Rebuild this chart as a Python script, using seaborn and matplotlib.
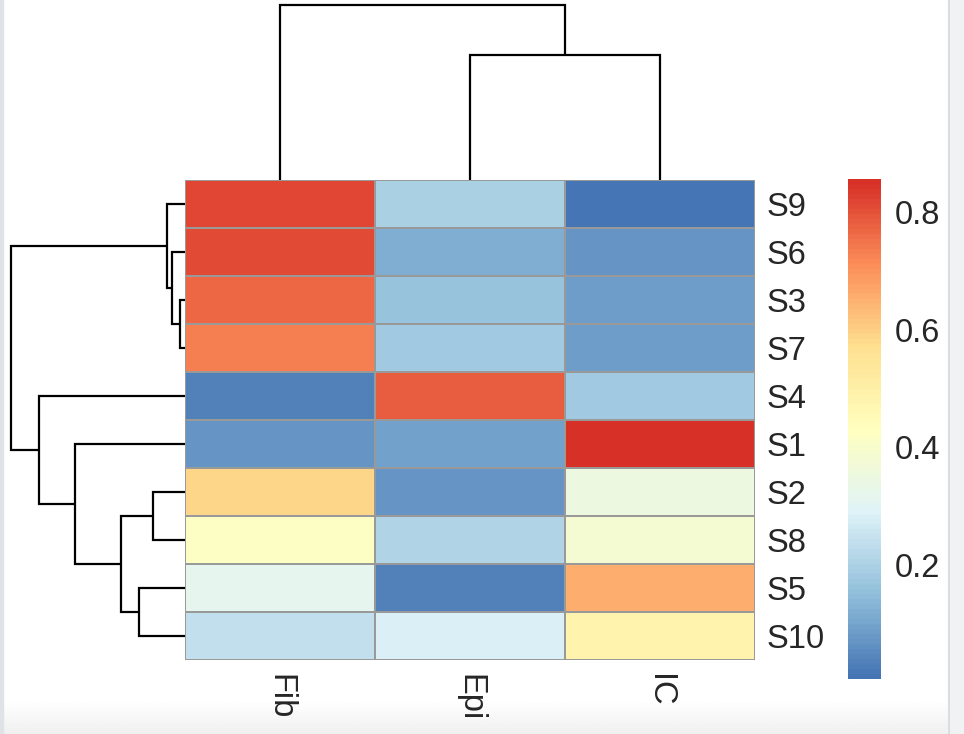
import numpy as np
import pandas as pd
import matplotlib
matplotlib.use("Agg")
import matplotlib.pyplot as plt
from matplotlib.colors import LinearSegmentedColormap, ListedColormap
import seaborn as sns

# ---------------- data ----------------
rows = ["S9", "S6", "S3", "S7", "S4", "S1", "S2", "S8", "S5", "S10"]
cols = ["Fib", "Epi", "IC"]
fib = [0.815, 0.810, 0.765, 0.736, 0.037, 0.066, 0.584, 0.414, 0.318, 0.237]
epi = [0.195, 0.123, 0.159, 0.182, 0.780, 0.094, 0.070, 0.203, 0.036, 0.278]
ic = [0.006, 0.070, 0.090, 0.090, 0.180, 0.856, 0.352, 0.380, 0.655, 0.490]
cbar_ticks = [0.2, 0.4, 0.6, 0.8]

# dendrogram merges: (left member, right member, height)
row_merges = [("S3", "S7", 5), ("S6", 0, 13), ("S9", 1, 18),
              ("S2", "S8", 32), ("S5", "S10", 46), (3, 4, 64),
              ("S1", 5, 110), ("S4", 6, 146), (2, 7, 174)]
col_merges = [("Epi", "IC", 125), ("Fib", 0, 175)]

df = pd.DataFrame({"Fib": fib, "Epi": epi, "IC": ic}, index=rows)[cols]

# ---------------- style ----------------
W, H = 964, 734
FONT = ["Liberation Sans", "DejaVu Sans"]
FS = 23.5
sns.set_style("white")
plt.rcParams["font.family"] = FONT

base = ["#4575B4", "#91BFDB", "#E0F3F8", "#FFFFBF", "#FEE090", "#FC8D59", "#D73027"]
cmap = ListedColormap(LinearSegmentedColormap.from_list("rdylbu", base)(np.linspace(0, 1, 100)))

fig = plt.figure(figsize=(W / 100, H / 100), dpi=100)
fig.patch.set_facecolor("white")


def px_axes(x0, y0, x1, y1):
    return fig.add_axes([x0 / W, 1 - y1 / H, (x1 - x0) / W, (y1 - y0) / H])


# screenshot frame decorations
deco = fig.add_axes([0, 0, 1, 1], zorder=-5)
deco.set_xlim(0, W)
deco.set_ylim(H, 0)
deco.axis("off")
grad = np.linspace(1.0, 0.94, 40)[:, None] * np.ones((1, 10))
deco.imshow(grad, extent=(0, W, H, 700), cmap="gray", vmin=0, vmax=1, aspect="auto")
deco.axvspan(948, W, color="#f1f2f4")
deco.axvline(949, color="#d6dade", lw=1.2)
deco.axvspan(0, 2.5, color="#dfe3e7")

# heatmap
hx0, hy0, hx1, hy1 = 185, 180, 755, 660
ax = px_axes(hx0, hy0, hx1, hy1)
cax = px_axes(848, 179, 881, 679)
vmin, vmax = df.values.min(), df.values.max()
sns.heatmap(df, ax=ax, cbar_ax=cax, cmap=cmap, vmin=vmin, vmax=vmax,
            linewidths=1.4, linecolor="#999999")
ax.yaxis.tick_right()
ax.set_yticks(np.arange(len(rows)) + 0.5)
ax.set_yticklabels(rows, rotation=0, fontsize=FS, ha="left")
ax.set_xticks(np.arange(len(cols)) + 0.5)
ax.set_xticklabels(cols, rotation=270, fontsize=FS, va="top", ha="center")
ax.tick_params(axis="y", length=0, pad=8.5)
ax.tick_params(axis="x", length=0, pad=10)
ax.set_xlabel("")
ax.set_ylabel("")

cbar = ax.collections[0].colorbar
cbar.outline.set_visible(False)
cbar.set_ticks(cbar_ticks)
cbar.set_ticklabels([f"{t:.1f}" for t in cbar_ticks])
cbar.ax.tick_params(length=0, labelsize=FS, pad=10)


def draw_dendro(axd, merges, order, horizontal):
    pos = {name: i + 0.5 for i, name in enumerate(order)}
    hgt = {name: 0.0 for name in order}
    for k, (a, b, h) in enumerate(merges):
        pa, pb = pos[a], pos[b]
        ha, hb = hgt[a], hgt[b]
        if horizontal:
            xs, ys = [ha, h, h, hb], [pa, pa, pb, pb]
        else:
            xs, ys = [pa, pa, pb, pb], [ha, h, h, hb]
        axd.plot(xs, ys, color="black", lw=1.6, clip_on=False,
                 solid_joinstyle="miter", solid_capstyle="butt")
        pos[k] = (pa + pb) / 2
        hgt[k] = h


# row dendrogram (left)
rax = px_axes(11, hy0, hx0, hy1)
root_r = row_merges[-1][2]
draw_dendro(rax, row_merges, rows, horizontal=True)
rax.set_xlim(root_r, 0)
rax.set_ylim(len(rows), 0)
rax.axis("off")

# column dendrogram (top)
tax = px_axes(hx0, 5, hx1, hy0)
root_c = col_merges[-1][2]
draw_dendro(tax, col_merges, cols, horizontal=False)
tax.set_ylim(0, root_c)
tax.set_xlim(0, len(cols))
tax.axis("off")

fig.savefig("out.png", dpi=100)
